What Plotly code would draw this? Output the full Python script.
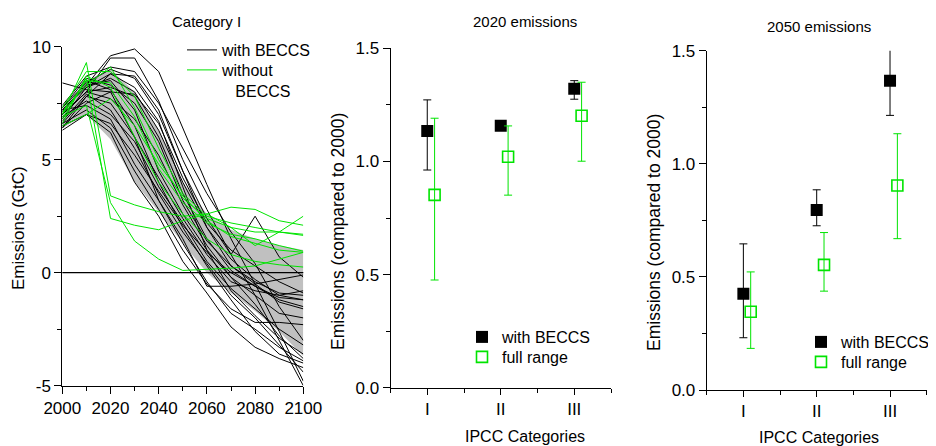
import plotly.graph_objects as go

# ---------------- data ----------------
years = [2000, 2010, 2020, 2030, 2040, 2050, 2060, 2070, 2080, 2090, 2100]

band_upper = [7.3, 8.5, 9.0, 8.0, 6.3, 4.0, 2.6, 1.9, 1.5, 1.2, 1.0]
band_lower = [6.4, 7.0, 5.9, 4.0, 2.7, 1.3, 0.0, -0.9, -1.7, -2.6, -3.7]

with_beccs_paths = [
    [7.2, 8.3, 9.6, 9.9, 8.9, 6.4, 3.9, 1.5, -0.5, -2.6, -4.8],
    [7.0, 8.0, 9.5, 9.5, 7.6, 5.0, 2.8, 0.8, -1.0, -3.0, -5.0],
    [7.3, 8.4, 9.0, 8.6, 7.0, 4.5, 2.4, 0.8, 2.5, 0.7, -0.2],
    [8.4, 8.1, 8.0, 7.9, 6.6, 4.2, 2.2, 1.0, 0.3, -0.4, -0.9],
    [6.4, 7.8, 8.8, 8.7, 7.2, 4.5, 2.0, 0.6, -0.3, -1.0, -1.2],
    [6.8, 8.2, 8.6, 8.0, 6.3, 4.0, 2.0, 0.3, -0.5, -1.3, -1.6],
    [7.0, 8.0, 8.2, 7.8, 6.0, 3.5, 1.5, 0.1, -0.6, -1.2, -1.5],
    [6.4, 7.5, 8.0, 6.0, 3.2, 1.5, -0.6, -0.6, -0.5, -0.3, -0.1],
    [6.6, 7.2, 6.4, 4.5, 2.8, 1.0, -0.5, -1.6, -2.2, -2.2, -2.3],
    [6.5, 7.0, 6.2, 4.0, 2.5, 0.5, -0.9, -2.4, -3.3, -3.8, -4.2],
    [7.2, 7.4, 6.8, 4.8, 3.2, 1.3, -0.4, -1.8, -2.5, -3.3, -3.9],
    [6.9, 7.6, 7.0, 5.8, 3.8, 2.2, 0.5, -0.7, -1.6, -2.5, -3.2],
    [7.1, 8.3, 8.5, 7.2, 4.5, 2.6, 1.0, -0.2, -1.0, -1.8, -2.0],
    [6.7, 7.9, 7.2, 5.5, 3.5, 1.8, 0.4, -1.0, -2.0, -3.2, -4.4],
    [7.3, 8.6, 8.3, 7.5, 5.8, 3.2, 1.4, 0.3, -0.4, -0.9, -1.0],
    [6.3, 7.0, 6.6, 5.2, 3.6, 2.1, 0.9, 0.0, -0.6, -1.1, -1.2],
    [7.4, 8.7, 9.1, 8.9, 7.5, 5.5, 3.5, 1.8, 0.4, -1.5, -3.0],
    [7.0, 8.5, 8.1, 6.5, 4.0, 2.0, 0.3, -1.2, -2.6, -3.6, -4.0],
    [6.6, 7.8, 7.5, 6.0, 4.2, 2.4, 0.8, -0.4, -0.8, -1.0, -0.8],
    [7.0, 8.0, 7.7, 6.8, 5.2, 3.0, 1.2, -0.2, -1.4, -2.8, -3.8],
    [7.2, 8.2, 8.8, 8.2, 6.7, 3.8, 1.0, -0.8, -1.9, -2.9, -3.6],
]

without_beccs_paths = [
    [7.0, 9.3, 3.4, 3.0, 2.7, 2.5, 2.6, 2.9, 2.8, 2.3, 2.1],
    [6.8, 8.6, 2.4, 2.1, 1.9, 2.3, 2.6, 2.0, 1.2, 1.8, 2.5],
    [6.9, 7.4, 3.1, 1.4, 0.6, 0.1, 0.15, 0.2, 0.3, 0.6, 0.9],
    [7.1, 8.3, 9.1, 7.3, 5.0, 3.3, 2.4, 2.0, 1.8, 1.8, 1.7],
    [7.0, 8.5, 8.4, 6.9, 4.6, 3.1, 2.2, 1.7, 1.5, 1.2, 0.95],
    [6.5, 7.0, 7.7, 6.5, 4.8, 3.4, 2.3, 1.6, 1.3, 1.0, 0.9],
    [7.3, 8.9, 8.9, 7.8, 5.5, 3.5, 2.5, 2.2, 2.0, 1.8, 1.65],
    [6.6, 8.7, 8.2, 6.0, 4.0, 2.6, 1.5, 0.8, 0.5, 0.35, 0.25],
]

categories = ["I", "II", "III"]
cat_pos = [1, 2, 3]

e2020_beccs = [1.135, 1.158, 1.321]
e2020_beccs_lo = [0.962, 1.158, 1.275]
e2020_beccs_hi = [1.272, 1.158, 1.357]
e2020_full = [0.852, 1.021, 1.202]
e2020_full_lo = [0.476, 0.851, 1.001]
e2020_full_hi = [1.191, 1.157, 1.350]

e2050_beccs = [0.425, 0.796, 1.367]
e2050_beccs_lo = [0.231, 0.726, 1.214]
e2050_beccs_hi = [0.646, 0.885, 1.515]
e2050_full = [0.346, 0.553, 0.904]
e2050_full_lo = [0.184, 0.437, 0.669]
e2050_full_hi = [0.522, 0.696, 1.133]

# ---------------- style ----------------
W, H = 936, 446
OX, OY = 8, 8   # page body offset of the plot div
GREEN = "#00E400"
FONT = "Liberation Sans, Arial, sans-serif"


def px(x):
    return (x - OX) / W


def py(y):
    return 1 - (y - OY) / H


fig = go.Figure()

# Left panel: band
fig.add_trace(go.Scatter(x=years, y=band_upper, mode="lines", line=dict(width=0),
                         showlegend=False, hoverinfo="skip", xaxis="x", yaxis="y"))
fig.add_trace(go.Scatter(x=years, y=band_lower, mode="lines", line=dict(width=0),
                         fill="tonexty", fillcolor="#C0C0C0",
                         showlegend=False, hoverinfo="skip", xaxis="x", yaxis="y"))

for i, path in enumerate(with_beccs_paths):
    fig.add_trace(go.Scatter(x=years, y=path, mode="lines",
                             line=dict(color="black", width=1),
                             name="with BECCS", legendgroup="wb", showlegend=(i == 0),
                             legend="legend", xaxis="x", yaxis="y"))
for i, path in enumerate(without_beccs_paths):
    fig.add_trace(go.Scatter(x=years, y=path, mode="lines",
                             line=dict(color=GREEN, width=1),
                             name="without<br>&nbsp;&nbsp;&nbsp;BECCS", legendgroup="wob",
                             showlegend=(i == 0),
                             legend="legend2", xaxis="x", yaxis="y"))


def err(vals, lo, hi):
    return dict(type="data", symmetric=False,
                array=[h - v for v, h in zip(vals, hi)],
                arrayminus=[v - l for v, l in zip(vals, lo)],
                thickness=1, width=4)


def add_panel(xa, ya, leg_b, leg_f, beccs, blo, bhi, full, flo, fhi):
    e = err(beccs, blo, bhi)
    e["color"] = "black"
    fig.add_trace(go.Scatter(x=cat_pos, y=beccs, mode="markers",
                             marker=dict(symbol="square", size=12, color="black"),
                             error_y=e, name="with BECCS", legend=leg_b,
                             xaxis=xa, yaxis=ya))
    e2 = err(full, flo, fhi)
    e2["color"] = GREEN
    fig.add_trace(go.Scatter(x=[c + 0.1 for c in cat_pos], y=full, mode="markers",
                             marker=dict(symbol="square-open", size=11, color=GREEN,
                                         line=dict(width=1.6, color=GREEN)),
                             error_y=e2, name="full range", legend=leg_f,
                             xaxis=xa, yaxis=ya))


add_panel("x2", "y2", "legend3", "legend4", e2020_beccs, e2020_beccs_lo, e2020_beccs_hi,
          e2020_full, e2020_full_lo, e2020_full_hi)
add_panel("x3", "y3", "legend5", "legend6", e2050_beccs, e2050_beccs_lo, e2050_beccs_hi,
          e2050_full, e2050_full_lo, e2050_full_hi)

axis_common = dict(showline=True, linecolor="black", linewidth=1, showgrid=False,
                   zeroline=False, ticks="outside", tickcolor="black", ticklen=7,
                   tickwidth=1, tickfont=dict(size=17, color="black", family=FONT))

minor_common = dict(ticks="outside", ticklen=4, tickcolor="black", tickwidth=1,
                    showgrid=False)

cat_x = dict(axis_common, range=[0.5, 3.5], tickmode="array", tickvals=cat_pos,
             ticktext=categories, ticklen=6,
             minor=dict(minor_common, tickmode="array", tickvals=[0.5, 1.5, 2.5, 3.5]))
val_y = dict(axis_common, range=[0, 1.5], tickmode="array",
             tickvals=[0, 0.5, 1.0, 1.5], ticktext=["0.0", "0.5", "1.0", "1.5"],
             minor=dict(minor_common, tickmode="array", tickvals=[0.25, 0.75, 1.25]))


def leg(x_screen, top_screen, valign="middle"):
    return dict(x=px(x_screen), y=py(top_screen), xanchor="left", yanchor="top",
                bgcolor="rgba(0,0,0,0)", font=dict(size=16, family=FONT),
                valign=valign, tracegroupgap=0)


def ann(text, x, y, size, angle=0):
    return dict(text=text, x=px(x), y=py(y), xref="paper", yref="paper",
                xanchor="center", yanchor="middle", showarrow=False,
                textangle=angle, font=dict(size=size, family=FONT, color="black"))


fig.update_layout(
    width=W, height=H, margin=dict(l=0, r=0, t=0, b=0, pad=0, autoexpand=False),
    paper_bgcolor="white", plot_bgcolor="white",
    font=dict(family=FONT, color="black"),
    xaxis=dict(axis_common, domain=[px(62.3), px(303.3)], range=[2000, 2100],
               anchor="y", tickmode="array", tickvals=[2000, 2020, 2040, 2060, 2080, 2100],
               ticktext=["2000", "2020", "2040", "2060", "2080", "2100"],
               minor=dict(minor_common, tickmode="array", tickvals=[2010, 2030, 2050, 2070, 2090])),
    yaxis=dict(axis_common, domain=[py(385.7), py(46.7)], range=[-5, 10], anchor="x",
               tickmode="array", tickvals=[-5, 0, 5, 10], ticktext=["-5", "0", "5", "10"],
               minor=dict(minor_common, tickmode="array", tickvals=[-2.5, 2.5, 7.5])),
    xaxis2=dict(cat_x, domain=[px(390.5), px(611)], anchor="y2"),
    yaxis2=dict(val_y, domain=[py(387.7), py(48.3)], anchor="x2"),
    xaxis3=dict(cat_x, domain=[px(706.7), px(926.7)], anchor="y3"),
    yaxis3=dict(val_y, domain=[py(390), py(50.7)], anchor="x3"),
    legend=leg(182, 33),
    legend2=leg(182, 53, valign="top"),
    legend3=leg(462, 320),
    legend4=leg(462, 340),
    legend5=leg(801, 325),
    legend6=leg(801, 345),
    shapes=[dict(type="line", xref="x domain", yref="y", x0=0, x1=1, y0=0, y1=0,
                 line=dict(color="black", width=1.3), layer="above")],
    annotations=[
        ann("Category I", 206, 22, 15),
        ann("2020 emissions", 525, 22, 15),
        ann("2050 emissions", 819, 26, 15),
        ann("Emissions (GtC)", 18, 228, 17, -90),
        ann("Emissions (compared to 2000)", 338, 232, 17.5, -90),
        ann("Emissions (compared to 2000)", 654, 233, 17.5, -90),
        ann("IPCC Categories", 525, 436, 16),
        ann("IPCC Categories", 819, 437, 16),
    ],
)

fig.write_html("out.html")
